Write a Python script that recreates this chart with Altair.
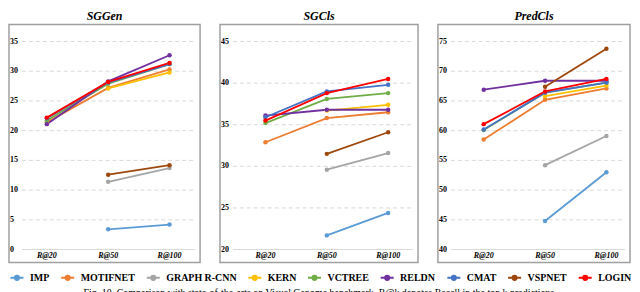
import altair as alt
import pandas as pd

methods = ["IMP", "MOTIFNET", "GRAPH R-CNN", "KERN", "VCTREE", "RELDN", "CMAT", "VSPNET", "LOGIN"]
colors = ["#5B9BD5", "#ED7D31", "#A5A5A5", "#FFC000", "#70AD47", "#7030A0", "#4472C4", "#9E480E", "#FF0000"]
recalls = ["R@20", "R@50", "R@100"]

# values per method, [R@20, R@50, R@100]
sggen = {
    "IMP": [None, 3.4, 4.2],
    "MOTIFNET": [21.4, 27.2, 30.3],
    "GRAPH R-CNN": [None, 11.4, 13.7],
    "KERN": [None, 27.1, 29.8],
    "VCTREE": [21.7, 27.9, 31.2],
    "RELDN": [21.1, 28.3, 32.7],
    "CMAT": [22.1, 28.1, 31.2],
    "VSPNET": [None, 12.6, 14.2],
    "LOGIN": [22.2, 28.2, 31.4],
}
sgcls = {
    "IMP": [None, 21.7, 24.4],
    "MOTIFNET": [32.9, 35.8, 36.5],
    "GRAPH R-CNN": [None, 29.6, 31.6],
    "KERN": [None, 36.7, 37.4],
    "VCTREE": [35.2, 38.1, 38.8],
    "RELDN": [36.1, 36.8, 36.8],
    "CMAT": [35.9, 39.0, 39.8],
    "VSPNET": [None, 31.5, 34.1],
    "LOGIN": [35.5, 38.8, 40.5],
}
predcls = {
    "IMP": [None, 44.8, 53.0],
    "MOTIFNET": [58.5, 65.2, 67.1],
    "GRAPH R-CNN": [None, 54.2, 59.1],
    "KERN": [None, 65.8, 67.6],
    "VCTREE": [60.1, 66.4, 68.1],
    "RELDN": [66.9, 68.4, 68.4],
    "CMAT": [60.2, 66.4, 68.1],
    "VSPNET": [None, 67.4, 73.8],
    "LOGIN": [61.1, 66.6, 68.7],
}
sggen_ticks = [0, 5, 10, 15, 20, 25, 30, 35]
sgcls_ticks = [20, 25, 30, 35, 40, 45]
predcls_ticks = [40, 45, 50, 55, 60, 65, 70, 75]
caption = "Fig. 10. Comparison with state-of-the-arts on Visual Genome benchmark. R@k denotes Recall in the top k predictions."

SERIF = "Liberation Serif"
TOP_ABS = 22
BOT_ABS = 261
H = BOT_ABS - TOP_ABS
Y_LOW_ABS, Y_HIGH_ABS = 248, 39
STEP = 61.65

legend_path = "M-1,0H1M-0.32,0A0.32,0.32,0,1,0,0.32,0A0.32,0.32,0,1,0,-0.32,0Z"


def panel(title, values, ticks, left_abs, right_abs, first_abs):
    w = right_abs - left_abs
    lo, hi = ticks[0], ticks[-1]
    k = (Y_LOW_ABS - Y_HIGH_ABS) / (hi - lo)
    d_top = lo + (Y_LOW_ABS - TOP_ABS) / k
    d_bot = lo - (BOT_ABS - Y_LOW_ABS) / k
    yscale = alt.Scale(domain=[d_bot, d_top], nice=False, zero=False)
    p0 = first_abs - left_abs
    xscale = alt.Scale(domain=[-p0 / STEP, (w - p0) / STEP], nice=False, zero=False)

    rows = []
    for m in methods:
        for i, v in enumerate(values[m]):
            if v is not None:
                rows.append({"method": m, "i": i, "v": v})
    df = pd.DataFrame(rows)
    tdf = pd.DataFrame({"v": ticks})
    xdf = pd.DataFrame({"i": [0, 1, 2], "lab": recalls})

    base_rule = alt.Chart(tdf).transform_filter(alt.datum.v == lo).mark_rule(
        color="#d9d9d9", strokeWidth=1).encode(
        x=alt.value(13), x2=alt.value(w - 5), y=alt.Y("v:Q", scale=yscale, axis=None))
    grid = alt.Chart(tdf).transform_filter(alt.datum.v != lo).mark_rule(
        color="#d9d9d9", strokeWidth=1, strokeDash=[4, 3]).encode(
        x=alt.value(13), x2=alt.value(w - 5), y=alt.Y("v:Q", scale=yscale, axis=None))
    ylab = alt.Chart(tdf).mark_text(
        align="left", baseline="middle", font=SERIF, fontSize=8, fontWeight="bold", color="black").encode(
        x=alt.value(1), y=alt.Y("v:Q", scale=yscale, axis=None), text="v:Q")
    xlab = alt.Chart(xdf).mark_text(
        align="center", baseline="middle", font=SERIF, fontSize=8, fontWeight="bold",
        fontStyle="italic", color="black").encode(
        x=alt.X("i:Q", scale=xscale, axis=None), y=alt.value(H - 7), text="lab:N")

    color = alt.Color("method:N", scale=alt.Scale(domain=methods, range=colors),
                      legend=alt.Legend(title=None, orient="none", legendX=0, legendY=246,
                                        direction="horizontal", columns=9,
                                        symbolType=legend_path, symbolSize=170,
                                        symbolStrokeWidth=2, labelFont=SERIF,
                                        labelFontSize=10, labelFontWeight="bold",
                                        labelColor="black", labelOffset=5,
                                        columnPadding=7, labelLimit=200))
    lines = alt.Chart(df).mark_line(strokeWidth=1.8).encode(
        x=alt.X("i:Q", scale=xscale, axis=None),
        y=alt.Y("v:Q", scale=yscale, axis=None),
        color=color)
    pts = alt.Chart(df).mark_point(filled=True, size=20, opacity=1).encode(
        x=alt.X("i:Q", scale=xscale, axis=None),
        y=alt.Y("v:Q", scale=yscale, axis=None),
        color=color)
    return alt.layer(base_rule, grid, ylab, xlab, lines, pts).properties(
        width=w, height=H,
        title=alt.Title(title, font=SERIF, fontSize=12, fontStyle="italic",
                        fontWeight="bold", anchor="middle", offset=2, color="black"))


p1 = panel("SGGen", sggen, sggen_ticks, 8, 200, 46)
p2 = panel("SGCls", sgcls, sgcls_ticks, 220, 419, 265.7)
p3 = panel("PredCls", predcls, predcls_ticks, 439, 632, 485)

chart = alt.hconcat(p1, p2, p3, spacing=20, bounds="flush").properties(
    padding=0,
    title=alt.Title(caption, orient="bottom", anchor="middle", font=SERIF, fontSize=10,
                    fontWeight="normal", color="black", offset=4),
).configure_view(stroke="#a0a0a0", strokeWidth=1.5)

chart.save("out.html", embed_options={"renderer": "svg", "actions": False})
